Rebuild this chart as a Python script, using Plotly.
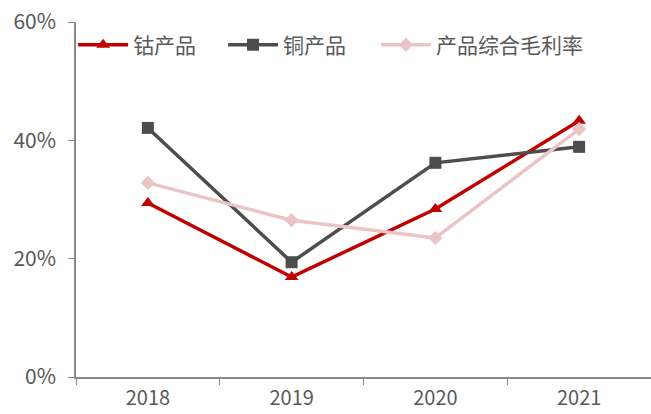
import plotly.graph_objects as go

years = ["2018", "2019", "2020", "2021"]
cobalt = [29.4, 16.9, 28.4, 43.3]
copper = [42.1, 19.4, 36.2, 38.9]
overall = [32.8, 26.5, 23.5, 41.9]

names = ["钴产品", "铜产品", "产品综合毛利率"]
colors = ["#C00000", "#4D4D4D", "#EBC5C5"]
symbols = ["triangle-up", "square", "diamond"]
sizes = [12, 12, 11]
legend_ids = ["legend", "legend2", "legend3"]
legend_x = [-0.005, 0.2557, 0.5217]

fig = go.Figure()
for name, vals, c, s, sz, lid in zip(names, [cobalt, copper, overall], colors, symbols, sizes, legend_ids):
    fig.add_trace(go.Scatter(
        x=years, y=vals, name=name, mode="lines+markers",
        line=dict(color=c, width=3.5),
        marker=dict(symbol=s, size=sz, color=c),
        legend=lid,
    ))

font_family = "Noto Sans CJK SC, Noto Sans, sans-serif"
layout_legends = {}
for lid, lx in zip(legend_ids, legend_x):
    layout_legends[lid] = dict(
        orientation="h", x=lx, y=0.935, xanchor="left", yanchor="middle",
        font=dict(size=21, color="#595959"), bgcolor="rgba(0,0,0,0)",
        itemwidth=50,
    )

fig.update_layout(
    width=651, height=414,
    margin=dict(l=76, r=0, t=22, b=37),
    plot_bgcolor="white", paper_bgcolor="white",
    font=dict(family=font_family, size=21, color="#595959"),
    showlegend=True,
    **layout_legends,
)
fig.update_xaxes(
    type="category", range=[-0.5, 3.5], automargin=False,
    showline=True, linecolor="#898989", linewidth=1.5,
    ticks="outside", tickson="boundaries", ticklen=6, tickcolor="#898989",
    showgrid=False, tickfont=dict(size=20, color="#595959"), ticklabelstandoff=2,
)
fig.update_yaxes(
    range=[0, 60], tickvals=[0, 20, 40, 60], ticktext=["0%", "20%", "40%", "60%"],
    automargin=False,
    showline=True, linecolor="#898989", linewidth=1.5,
    ticks="outside", ticklen=6, tickcolor="#898989",
    showgrid=False, zeroline=False, tickfont=dict(size=21, color="#595959"),
    ticklabelstandoff=8,
)
fig.write_html("out.html")
